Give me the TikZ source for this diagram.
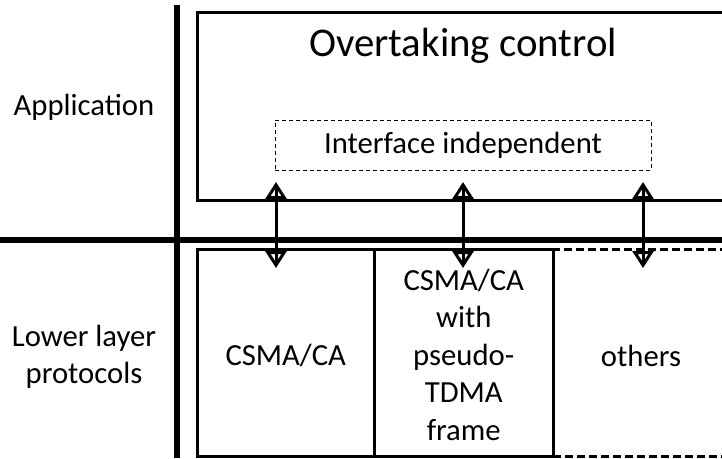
\documentclass[tikz,border=0pt]{standalone}
\usepackage{fontspec}
\setmainfont{Carlito}
\usetikzlibrary{calc}
\usetikzlibrary{arrows.meta}

\begin{document}
\begin{tikzpicture}[x=1pt, y=-1pt,
  box/.style={draw, line width=3pt, inner sep=0pt, outer sep=0pt, anchor=north west},
  lbl/.style={font=\fontsize{30.7}{37.5}\selectfont, align=center},
  link/.style={line width=3pt, {Triangle[open, length=17pt, width=21pt, line width=3pt]}-{Triangle[open, length=17pt, width=21pt, line width=3pt]}}]
\useasboundingbox (0,0) rectangle (722,458);
\clip (0,0) rectangle (722,458);

% application layer
\node[box, minimum width=532, minimum height=188] (ctrl) at (197,12) {};
\node[font=\fontsize{40.8}{49}\selectfont, anchor=base] (title) at (463,56) {Overtaking control};
\node[draw, dashed, dash pattern=on 4pt off 3pt, line width=1pt, minimum width=376, minimum height=50, inner sep=0pt, lbl] (iface) at (463,145) {Interface independent};

% lower layer protocols
\node[box, dash pattern=on 8pt off 4pt, minimum width=176, minimum height=207] (others) at (553,249) {};
\node[box, minimum width=177.5, minimum height=207] (csma) at (197,249) {};
\node[box, minimum width=178.5, minimum height=207] (pseudo) at (374.5,249) {};
\node[lbl] (csmatxt) at ($(csma.center)+(0,3)$) {CSMA/CA};
\node[lbl] (pseudotxt) at ($(pseudo.center)+(0,2)$) {CSMA/CA\\with\\pseudo-\\TDMA\\frame};
\node[lbl] (otherstxt) at ($(others.center)+(0,3)$) {others};

% layer names
\node[lbl, anchor=base] (app) at (84,115) {Application};
\node[lbl] (lower) at (84,357) {Lower layer\\protocols};

% separators
\draw[line width=6pt] (177,5) -- (177,458);
\draw[line width=6pt] (0,240) -- (722,240);

\foreach \n/\x in {1/276, 2/463, 3/643} {
  \coordinate (up\n) at (\x,182);
  \coordinate (lo\n) at (\x,268);
  \draw[link] (up\n) -- (lo\n);
  \draw[line width=3pt, shorten <=3pt, shorten >=3pt] (up\n) -- (lo\n);
}

\end{tikzpicture}
\end{document}
